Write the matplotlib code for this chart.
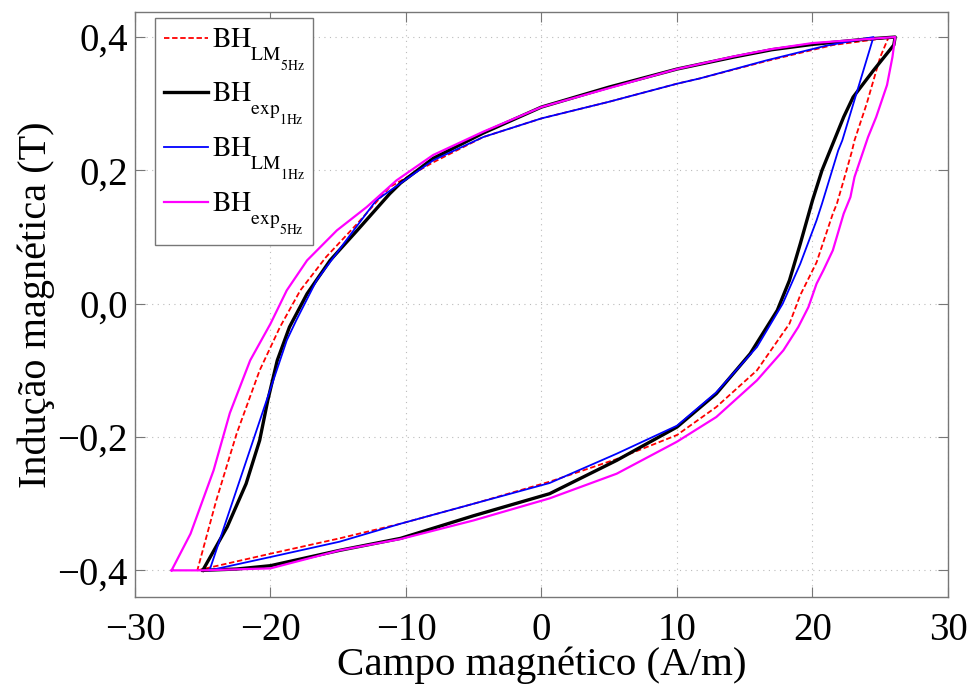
import matplotlib
matplotlib.use("Agg")
import matplotlib.pyplot as plt
from matplotlib.ticker import FuncFormatter

plt.rcParams["font.family"] = ["Liberation Serif", "DejaVu Serif"]
plt.rcParams["mathtext.fontset"] = "stix"

# the legend labels have deep nested subscripts, push them further down
try:
    import matplotlib._mathtext as _mt
    _mt.STIXFontConstants.sub1 = 1.15
except Exception:
    pass

# BH_LM 5Hz (red dashed): ascending branch then descending branch
lm5_up_h = [-25.4, -20, -14.9, -10.4, -5, 0.6, 5.55, 10, 12.9, 15.9, 18.3, 19.1, 20.3, 21.5, 21.8, 22.3, 22.9, 23.1, 24.0, 25.0, 25.6]
lm5_up_b = [-0.4, -0.375, -0.352, -0.33, -0.30, -0.267, -0.233, -0.197, -0.155, -0.1, -0.03, 0.013, 0.062, 0.135, 0.15, 0.185, 0.228, 0.245, 0.3, 0.37, 0.399]
lm5_dn_h = [25.6, 21.5, 16.6, 11.7, 10, 5, 0, -4.3, -8, -11.2, -13.6, -15.9, -17.8, -19.3, -20.8, -22.5, -24.0, -25.4]
lm5_dn_b = [0.399, 0.388, 0.364, 0.338, 0.33, 0.303, 0.278, 0.25, 0.212, 0.175, 0.12, 0.07, 0.02, -0.035, -0.1, -0.195, -0.295, -0.4]

# BH_exp 1Hz (black)
ex1_up_h = [-25.0, -22.5, -20, -14.9, -10.4, -5, 0.6, 5.55, 10, 12.9, 15.4, 17.4, 18.3, 19.1, 20.0, 20.7, 21.4, 22.3, 23.0, 24.5, 26.0, 26.1]
ex1_up_b = [-0.4, -0.398, -0.393, -0.37, -0.352, -0.318, -0.285, -0.235, -0.185, -0.135, -0.075, -0.01, 0.035, 0.09, 0.155, 0.2, 0.235, 0.28, 0.31, 0.35, 0.388, 0.4]
ex1_dn_h = [26.1, 24, 20, 17, 14.2, 10, 5, 0, -4.3, -8, -10.4, -11.2, -13.6, -15.6, -17.3, -18.6, -19.5, -20.2, -20.8, -21.8, -23.2, -25.0]
ex1_dn_b = [0.4, 0.397, 0.389, 0.381, 0.37, 0.352, 0.325, 0.295, 0.256, 0.218, 0.181, 0.165, 0.11, 0.065, 0.015, -0.035, -0.085, -0.145, -0.205, -0.27, -0.335, -0.4]

# BH_LM 1Hz (blue)
lm1_up_h = [-24.5, -20, -14.9, -10.4, -5, 0.6, 5.55, 10, 12.9, 15.9, 17.8, 19.1, 20.3, 20.7, 21.9, 22.2, 24.5]
lm1_up_b = [-0.4, -0.38, -0.357, -0.33, -0.30, -0.269, -0.225, -0.183, -0.133, -0.065, 0.0, 0.06, 0.125, 0.15, 0.23, 0.245, 0.4]
lm1_dn_h = [24.5, 21, 16.6, 11.7, 10, 5, 0, -4.3, -8, -12.2, -14.6, -16.6, -18.1, -18.8, -24.5]
lm1_dn_b = [0.4, 0.387, 0.365, 0.338, 0.33, 0.303, 0.278, 0.25, 0.215, 0.155, 0.09, 0.035, -0.025, -0.055, -0.4]

# BH_exp 5Hz (magenta)
ex5_up_h = [-27.3, -25.1, -20, -14.9, -10.4, -5, 0.6, 5.55, 10, 12.9, 15.9, 17.85, 18.95, 19.7, 20.3, 20.8, 21.5, 22.3, 22.8, 23.1, 23.6, 24.1, 24.7, 25.5, 25.9, 26.1]
ex5_up_b = [-0.4, -0.4, -0.397, -0.37, -0.353, -0.325, -0.292, -0.255, -0.207, -0.17, -0.115, -0.07, -0.035, -0.005, 0.03, 0.05, 0.08, 0.135, 0.16, 0.19, 0.22, 0.25, 0.28, 0.328, 0.37, 0.4]
ex5_dn_h = [26.1, 20, 17, 14.2, 10, 0, -4.3, -8, -10.7, -12.9, -15.1, -17.3, -18.8, -20, -21.5, -23, -24.2, -25.9, -27.3]
ex5_dn_b = [0.4, 0.391, 0.382, 0.371, 0.352, 0.295, 0.258, 0.223, 0.185, 0.145, 0.11, 0.065, 0.02, -0.03, -0.085, -0.164, -0.25, -0.345, -0.4]

xticks = [-30, -20, -10, 0, 10, 20, 30]
yticks = [-0.4, -0.2, 0.0, 0.2, 0.4]

fig = plt.figure(figsize=(9.74, 6.89), dpi=100)
ax = fig.add_axes([0.1386, 0.1335, 0.8347, 0.849])

ax.plot(lm5_up_h + lm5_dn_h, lm5_up_b + lm5_dn_b, color="#ff0000", linestyle="--",
        dashes=(3, 1.5), linewidth=1.3, label=r"$\mathrm{BH}_{\mathrm{LM}_{\mathrm{5Hz}}}$")
ax.plot(ex1_up_h + ex1_dn_h, ex1_up_b + ex1_dn_b, color="black", linewidth=2.4,
        label=r"$\mathrm{BH}_{\mathrm{exp}_{\mathrm{1Hz}}}$")
ax.plot(lm1_up_h + lm1_dn_h, lm1_up_b + lm1_dn_b, color="#0000ff", linewidth=1.3,
        label=r"$\mathrm{BH}_{\mathrm{LM}_{\mathrm{1Hz}}}$")
ax.plot(ex5_up_h + ex5_dn_h, ex5_up_b + ex5_dn_b, color="#ff00ff", linewidth=1.6,
        label=r"$\mathrm{BH}_{\mathrm{exp}_{\mathrm{5Hz}}}$")

ax.set_xlim(-30, 30)
ax.set_ylim(-0.44, 0.4375)
ax.set_xticks(xticks)
ax.set_yticks(yticks)

ax.yaxis.set_major_formatter(FuncFormatter(lambda v, p: ("%.1f" % v).replace(".", ",").replace("-", "\u2212")))
ax.xaxis.set_major_formatter(FuncFormatter(lambda v, p: ("%d" % round(v)).replace("-", "\u2212")))

ax.tick_params(direction="in", top=True, right=True, length=7, width=0.8,
               color="#777777", labelsize=28)
ax.tick_params(axis="x", pad=11)
ax.tick_params(axis="y", pad=5)
for sp in ax.spines.values():
    sp.set_color("#777777")
    sp.set_linewidth(1.0)

ax.grid(True, linestyle=(0, (1, 4)), color="#bbbbbb", linewidth=0.8)

ax.set_xlabel("Campo magnético (A/m)", fontsize=29.5, labelpad=-2)
ax.set_ylabel("Indução magnética (T)", fontsize=29, labelpad=2)

leg = ax.legend(loc="upper left", bbox_to_anchor=(0.025, 0.99), borderaxespad=0,
                fontsize=20, handlelength=1.6, handletextpad=0.15, labelspacing=0.3,
                fancybox=False, framealpha=1, borderpad=0.3)
leg.get_frame().set_edgecolor("#777777")
leg.get_frame().set_linewidth(1.0)

fig.savefig("out.png", dpi=100)
